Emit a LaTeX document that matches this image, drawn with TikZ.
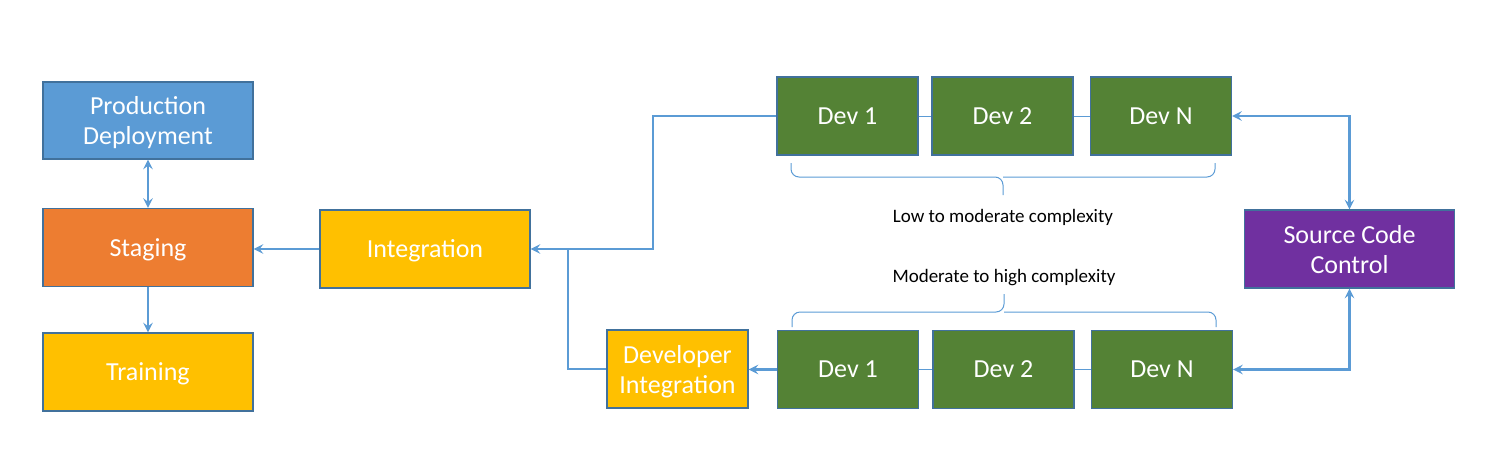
\documentclass[tikz,border=0pt]{standalone}
\usepackage{fontspec}
\setmainfont{Carlito}
\usetikzlibrary{positioning}

\definecolor{prodblue}{HTML}{5B9BD5}
\definecolor{stageorange}{HTML}{ED7D31}
\definecolor{trainyellow}{HTML}{FFC000}
\definecolor{devgreen}{HTML}{548235}
\definecolor{scmpurple}{HTML}{7030A0}
\definecolor{boxline}{HTML}{41719C}
\definecolor{linkblue}{HTML}{5B9BD5}

\tikzset{
  box/.style={draw=boxline, line width=0.6pt, text=white,
              font=\fontsize{13}{15}\selectfont, align=center,
              minimum width=105pt, minimum height=39pt, inner sep=0pt,
              text depth=0pt},
  devbox/.style={box, fill=devgreen, minimum width=70.5pt},
  link/.style={draw=linkblue, line width=1.1pt},
  thinlink/.style={draw=linkblue, line width=0.5pt},
  bracket/.style={draw=linkblue, line width=0.5pt, rounded corners=4pt},
  note/.style={font=\fontsize{9.5}{11}\selectfont}
}

\begin{document}
\begin{tikzpicture}[x=0.5pt,y=-0.5pt]
\useasboundingbox (0,0) rectangle (1505,467);

% release side
\node[box, fill=prodblue, minimum height=38.5pt] (prod) at (148,120.5) {Production\\Deployment};
\node[box, fill=stageorange] (stage) at (148,247.5) {Staging};
\node[box, fill=trainyellow] (train) at (148,372) {Training};
\node[box, fill=trainyellow] (integ) at (425,249) {Integration};

% developers
\node[devbox] (dev1t) at (847.5,116) {Dev 1};
\node[devbox] (dev2t) at (1002.5,116) {Dev 2};
\node[devbox] (devNt) at (1161,116) {Dev N};
\node[devbox] (dev1b) at (848,369.5) {Dev 1};
\node[devbox] (dev2b) at (1003.5,369.5) {Dev 2};
\node[devbox] (devNb) at (1162,369.5) {Dev N};
\node[devbox, fill=trainyellow] (devint) at (677.5,369) {Developer\\Integration};
\node[box, fill=scmpurple] (scm) at (1349.5,249) {Source Code\\Control};

\coordinate (split) at (653,249);
\coordinate (join) at (568,249);

\draw[link,stealth-stealth] (prod) -- (stage);
\draw[link,-stealth] (stage) -- (train);
\draw[link,-stealth] (integ.west) -- (integ.west -| stage.east);
\draw[link,-stealth] (dev1b.west) -- (dev1b.west -| devint.east);
\draw[link,-stealth] (dev1t.west) -| (split) -- (integ.east);
\draw[link] (devint.west) -| (join);
\draw[link,stealth-stealth] (devNt.east) -| (scm.north);
\draw[link,stealth-stealth] (devNb.east) -| (scm.south);

\draw[thinlink] (dev1t) -- (dev2t) (dev2t) -- (devNt);
\draw[thinlink] (dev1b) -- (dev2b) (dev2b) -- (devNb);

% complexity braces
\draw[bracket] (791,163) |- (1003,177) -- (1003,195);
\draw[bracket] (1215,163) |- (1003,177);
\draw[bracket] (792,327) |- (1004,312) -- (1004,294);
\draw[bracket] (1216,327) |- (1004,312);
\node[note] (low) at (1003,217) {Low to moderate complexity};
\node[note] (high) at (1004,278) {Moderate to high complexity};
\end{tikzpicture}
\end{document}
